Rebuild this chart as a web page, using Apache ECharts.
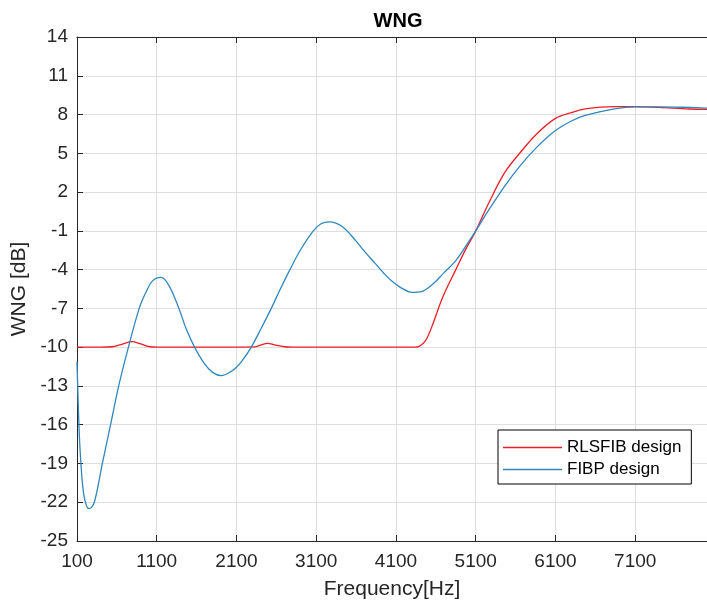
<!DOCTYPE html>
<html style="height: 100%">
   <head>
       <meta charset="utf-8">
       <script type="text/javascript" src="https://cdn.jsdelivr.net/npm/echarts/dist/echarts.min.js"></script>
   </head>
   <body style="height: 100%; margin: 0; background: #fff">
       <div id="wngContainer" style="width: 707px; height: 605px"></div>
   </body>
</html>
<script type="text/javascript">
    // values
    var fibpFreq = [100, 124, 149, 182, 220, 255, 317, 418, 521, 623, 745, 880, 969, 1050, 1153, 1250, 1378, 1470, 1574, 1700, 1800, 1908, 2000, 2100, 2200, 2285, 2410, 2536, 2650, 2770, 2900, 3063, 3160, 3264, 3429, 3600, 3700, 3836, 3950, 4039, 4150, 4303, 4420, 4566, 4700, 4850, 5000, 5100, 5256, 5459, 5661, 5864, 6100, 6300, 6472, 6837, 7100, 7400, 7780, 8000];
    var fibpWng = [-11.1, -16, -19, -21.3, -22.3, -22.5, -22.0, -19, -16, -13, -10, -7, -5.7, -4.85, -4.6, -5.2, -7, -8.6, -10, -11.3, -11.95, -12.2, -12.0, -11.55, -10.8, -10, -8.54, -7, -5.5, -4, -2.5, -1, -0.45, -0.3, -0.68, -1.8, -2.55, -3.5, -4.3, -4.85, -5.35, -5.76, -5.7, -5.1, -4.25, -3.3, -1.95, -1.0, 0.54, 2.43, 4.07, 5.46, 6.76, 7.5, 7.93, 8.44, 8.6, 8.6, 8.55, 8.5];

    var rlsfibFreq = [100, 400, 540, 650, 785, 900, 1000, 1100, 1500, 2000, 2330, 2400, 2490, 2580, 2700, 2800, 3500, 4343, 4444, 4500, 4566, 4688, 4850, 4972, 5100, 5256, 5459, 5661, 5864, 6100, 6300, 6472, 6837, 7100, 7400, 7780, 8000];
    var rlsfibWng = [-10, -10, -9.97, -9.8, -9.57, -9.75, -9.95, -10, -10, -10, -9.98, -9.85, -9.7, -9.83, -9.97, -10, -10, -10, -9.69, -9.15, -8.15, -6.1, -4.0, -2.45, -1.0, 1.06, 3.47, 5.08, 6.5, 7.7, 8.15, 8.44, 8.62, 8.62, 8.55, 8.43, 8.4];

    var seriesNames = ['RLSFIB design', 'FIBP design'];
    var seriesColors = ['#ee1c25', '#2f87bd'];

    function pairs(xs, ys) {
        var out = [];
        for (var i = 0; i < xs.length; i++) {
            out.push([xs[i], ys[i]]);
        }
        return out;
    }

    var dom = document.getElementById("wngContainer");
    var wngChart = echarts.init(dom);
    var axisColor = '#262626';
    var font = '"Liberation Sans", Arial, sans-serif';

    var option = {
        backgroundColor: '#fff',
        animation: false,
        title: {
            text: 'WNG',
            left: 398,
            top: 11,
            padding: 0,
            textAlign: 'center',
            textStyle: { fontFamily: font, fontSize: 20, fontWeight: 'bold', color: '#000' }
        },
        legend: {
            orient: 'vertical',
            left: 498,
            top: 430,
            padding: [9, 10, 6, 5],
            itemGap: 5,
            itemWidth: 59,
            itemHeight: 1.4,
            icon: 'rect',
            backgroundColor: '#fff',
            borderColor: '#000',
            borderWidth: 1,
            data: seriesNames,
            textStyle: { fontFamily: font, fontSize: 17, color: '#000' }
        },
        grid: { left: 77, right: -19, top: 37, bottom: 64 },
        xAxis: [{
            type: 'value',
            min: 100,
            max: 8000,
            interval: 1000,
            name: 'Frequency[Hz]',
            nameLocation: 'middle',
            nameGap: 38,
            nameTextStyle: { fontFamily: font, fontSize: 21, color: axisColor },
            axisLine: { onZero: false, lineStyle: { color: axisColor, width: 1 } },
            axisTick: { inside: true, length: 6, lineStyle: { color: axisColor } },
            axisLabel: {
                fontFamily: font, fontSize: 19, color: axisColor, margin: 11, showMaxLabel: false,
                formatter: function (v) { return String(v); }
            },
            splitLine: { show: true, lineStyle: { color: '#dfdfdf', width: 1 } }
        }, {
            type: 'value',
            position: 'top',
            min: 100,
            max: 8000,
            interval: 1000,
            axisLine: { onZero: false, lineStyle: { color: axisColor, width: 1 } },
            axisTick: { inside: true, length: 6, lineStyle: { color: axisColor } },
            axisLabel: { show: false },
            splitLine: { show: false }
        }],
        yAxis: {
            type: 'value',
            min: -25,
            max: 14,
            interval: 3,
            name: 'WNG [dB]',
            nameLocation: 'middle',
            nameGap: 42,
            nameTextStyle: { fontFamily: font, fontSize: 21, color: axisColor },
            axisLine: { show: true, onZero: false, lineStyle: { color: axisColor, width: 1 } },
            axisTick: { show: true, inside: true, length: 6, lineStyle: { color: axisColor } },
            axisLabel: { fontFamily: font, fontSize: 19, color: axisColor, margin: 9 },
            splitLine: { show: true, lineStyle: { color: '#dfdfdf', width: 1 } }
        },
        series: [
            {
                name: seriesNames[0],
                type: 'line',
                symbol: 'none',
                smooth: 0.35,
                color: seriesColors[0],
                lineStyle: { width: 1.3 },
                data: pairs(rlsfibFreq, rlsfibWng)
            },
            {
                name: seriesNames[1],
                type: 'line',
                symbol: 'none',
                smooth: 0.35,
                color: seriesColors[1],
                lineStyle: { width: 1.3 },
                data: pairs(fibpFreq, fibpWng)
            }
        ]
    };

    if (option && typeof option === "object") {
        wngChart.setOption(option, true);
    }
</script>
